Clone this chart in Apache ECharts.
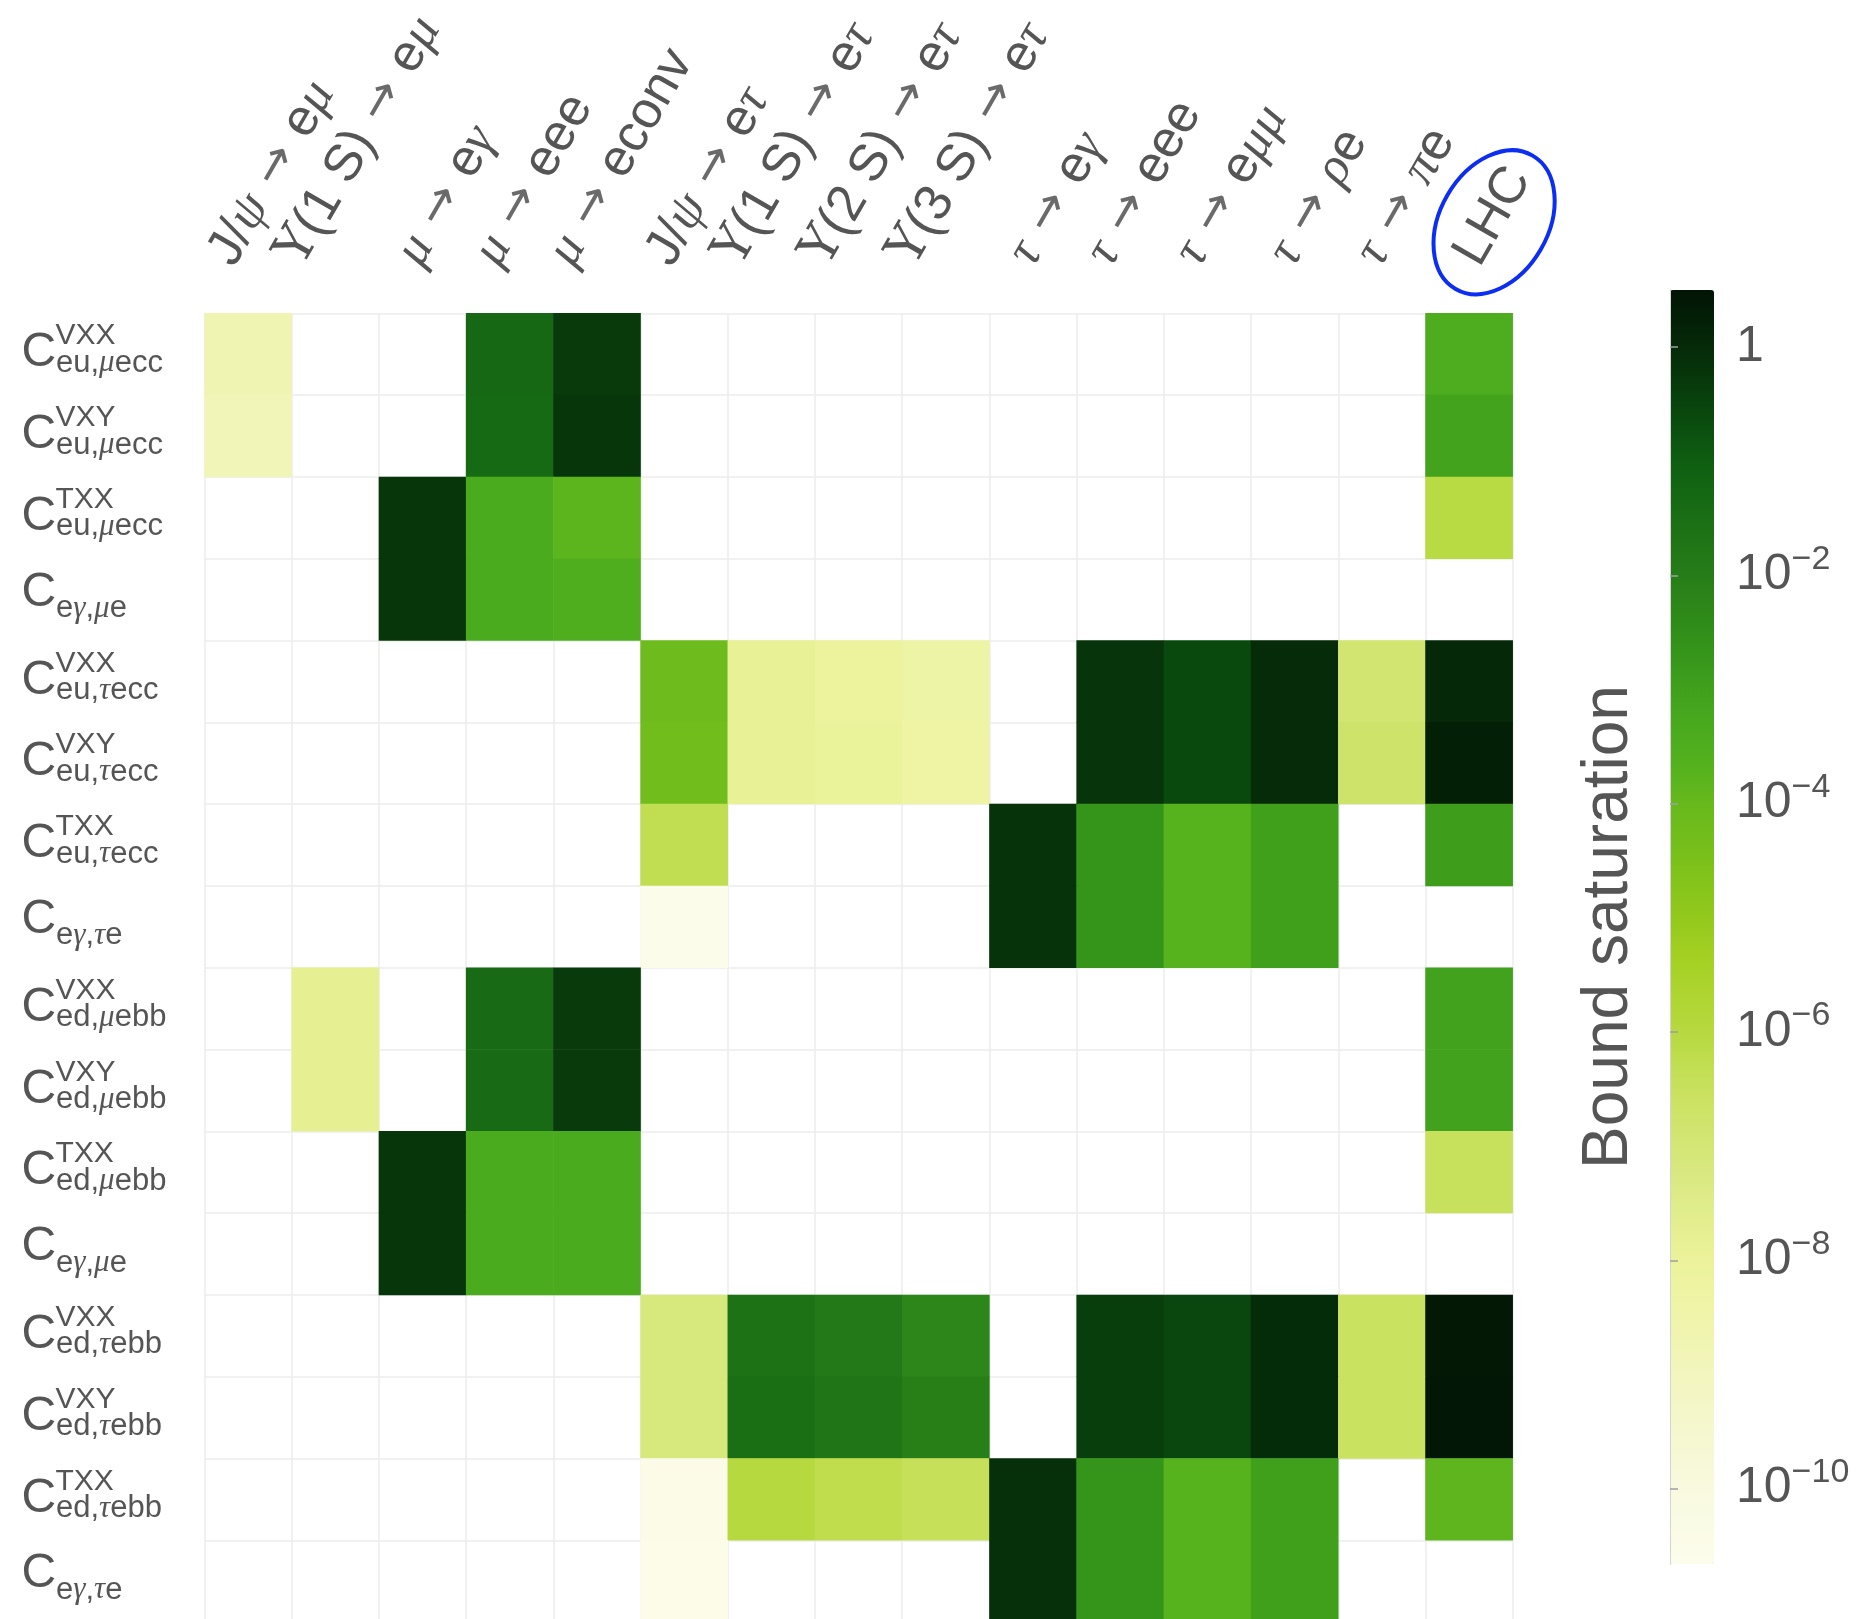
<!DOCTYPE html>
<html>
<head>
<meta charset="utf-8">
<script src="https://cdn.jsdelivr.net/npm/echarts@6/dist/echarts.min.js"></script>
<style>
  html, body { margin: 0; padding: 0; background: #ffffff; }
  #chart { width: 1875px; height: 1619px; }
</style>
</head>
<body>
<div id="chart"></div>
<script>
// ---- data -------------------------------------------------------------
// Observables (columns)
const observables = [
  'J/ψ → eμ', 'Υ(1 S) → eμ', 'μ → eγ', 'μ → eee', 'μ → econv',
  'J/ψ → eτ', 'Υ(1 S) → eτ', 'Υ(2 S) → eτ', 'Υ(3 S) → eτ',
  'τ → eγ', 'τ → eee', 'τ → eμμ', 'τ → ρe', 'τ → πe', 'LHC'
];
// Wilson coefficients (rows): C^{sup}_{sub}
const opSup = ['VXX', 'VXY', 'TXX', '', 'VXX', 'VXY', 'TXX', '',
               'VXX', 'VXY', 'TXX', '', 'VXX', 'VXY', 'TXX', ''];
const opSub = ['eu,μecc', 'eu,μecc', 'eu,μecc', 'eγ,μe',
               'eu,τecc', 'eu,τecc', 'eu,τecc', 'eγ,τe',
               'ed,μebb', 'ed,μebb', 'ed,μebb', 'eγ,μe',
               'ed,τebb', 'ed,τebb', 'ed,τebb', 'eγ,τe'];
// log10(bound saturation) per row, one entry per observable; null = no bound
const n = null;
const satLog10 = [
  [-8.7,  n, n,     -1.3,  -0.32, n,      n,     n,     n,     n,     n,     n,     n,     n,     -3.45],
  [-8.85, n, n,     -1.35, -0.25, n,      n,     n,     n,     n,     n,     n,     n,     n,     -3.1],
  [n,     n, -0.25, -3.4,  -3.82, n,      n,     n,     n,     n,     n,     n,     n,     n,     -6.05],
  [n,     n, -0.25, -3.4,  -3.5,  n,      n,     n,     n,     n,     n,     n,     n,     n,     n],
  [n,     n, n,     n,     n,     -4.15,  -7.85, -8.05, -8.35, n,     -0.2,  -0.62, -0.02, -6.9,  0.05],
  [n,     n, n,     n,     n,     -4.25,  -7.9,  -8.0,  -8.3,  n,     -0.2,  -0.62, -0.02, -6.75, 0.25],
  [n,     n, n,     n,     n,     -6.3,   n,     n,     n,     -0.18, -2.65, -3.7,  -3.0,  n,     -2.95],
  [n,     n, n,     n,     n,     -10.55, n,     n,     n,     -0.18, -2.65, -3.7,  -3.0,  n,     n],
  [n,     -7.75, n, -1.4,  -0.32, n,      n,     n,     n,     n,     n,     n,     n,     n,     -3.05],
  [n,     -7.75, n, -1.4,  -0.32, n,      n,     n,     n,     n,     n,     n,     n,     n,     -3.05],
  [n,     n, -0.25, -3.4,  -3.4,  n,      n,     n,     n,     n,     n,     n,     n,     n,     -6.5],
  [n,     n, -0.25, -3.4,  -3.4,  n,      n,     n,     n,     n,     n,     n,     n,     n,     n],
  [n,     n, n,     n,     n,     -7.15,  -1.6,  -1.85, -2.25, n,     -0.4,  -0.58, -0.03, -6.55, 0.4],
  [n,     n, n,     n,     n,     -7.15,  -1.5,  -1.72, -2.05, n,     -0.4,  -0.58, -0.03, -6.55, 0.45],
  [n,     n, n,     n,     n,     -10.4,  -6.0,  -6.25, -6.45, -0.12, -2.65, -3.7,  -3.0,  n,     -3.85],
  [n,     n, n,     n,     n,     -10.5,  n,     n,     n,     -0.12, -2.65, -3.7,  -3.0,  n,     n]
];
// colour scale (log10 units) and its labelled ticks
const scaleRange = [-10.66, 0.5];
const scaleTicks = [-10, -8, -6, -4, -2, 0];

// ---- colour map -------------------------------------------------------
const paletteStops = [
  [-10.66, '#fdfded'], [-10, '#f8f9df'], [-9.3, '#f4f7c8'], [-8.6, '#f0f4ae'],
  [-8, '#ecf39a'], [-7.3, '#dbe983'], [-6.6, '#cbe263'], [-6, '#b7d940'],
  [-5.4, '#a6d123'], [-5, '#93c91c'], [-4.5, '#7bc01b'], [-4, '#67b91c'],
  [-3.6, '#51b01e'], [-3.2, '#46a71e'], [-2.6, '#33921a'], [-2, '#277d18'],
  [-1.5, '#1a6f15'], [-1, '#0e5e11'], [-0.6, '#0a480e'], [0, '#052a08'], [0.5, '#021505']
];
function hexToRgb(h) { return [1, 3, 5].map(i => parseInt(h.substr(i, 2), 16)); }
function paletteAt(v) {
  for (let i = 1; i < paletteStops.length; i++) {
    const [v0, c0] = paletteStops[i - 1], [v1, c1] = paletteStops[i];
    if (v <= v1 || i === paletteStops.length - 1) {
      const t = Math.max(0, Math.min(1, (v - v0) / (v1 - v0)));
      const a = hexToRgb(c0), b = hexToRgb(c1);
      return 'rgb(' + a.map((x, k) => Math.round(x + (b[k] - x) * t)).join(',') + ')';
    }
  }
}
const rampColors = [];
for (let i = 0; i <= 90; i++) rampColors.push(paletteAt(scaleRange[0] + (scaleRange[1] - scaleRange[0]) * i / 90));

// ---- layout -----------------------------------------------------------
const GRID = { left: 204.5, top: 313.3, width: 1308.2, height: 1308.8 };
const BAR = { left: 1670, top: 290, width: 44, height: 1274 };
const TEXT = '#555555';
const LABEL_PX = 52;
const LABEL_GAP = 52;            // grid top -> centre of a zero-length column label
const LABEL_SHIFT = 24;          // column label boxes sit a little right of the column centre
const LABEL_ANGLE = Math.PI / 3; // column labels are turned 60 degrees
const ARROW_PAD = 3;

// rich-text helpers for the math-style labels
function tokenize(str) {
  const out = [];
  for (const ch of str) {
    let cls = 't';
    if ('ψμγτρπ'.includes(ch)) cls = 'g';
    else if (ch === 'Υ') cls = 'u';
    else if (ch === '→') cls = 'a';
    const last = out[out.length - 1];
    if (last && last.cls === cls) last.text += ch; else out.push({ cls, text: ch });
  }
  return out;
}
const toRich = str => tokenize(str).map(tk => '{' + tk.cls + '|' + tk.text + '}').join('');
const colRich = {
  t: { fontSize: LABEL_PX, fontFamily: 'Liberation Sans', fill: TEXT },
  g: { fontSize: LABEL_PX, fontFamily: 'Liberation Serif', fontStyle: 'italic', fill: TEXT },
  u: { fontSize: LABEL_PX, fontFamily: 'DejaVu Serif', fill: TEXT },
  a: { fontSize: LABEL_PX - 4, fontFamily: 'DejaVu Sans', fill: '#6a6a6a', padding: [0, ARROW_PAD, 0, ARROW_PAD] }
};
const subRich = {
  t: { fontSize: 31, fontFamily: 'Liberation Sans', color: TEXT },
  g: { fontSize: 31, fontFamily: 'Liberation Serif', fontStyle: 'italic', color: TEXT },
  u: { fontSize: 31, fontFamily: 'Liberation Sans', color: TEXT },
  a: { fontSize: 31, fontFamily: 'Liberation Sans', color: TEXT }
};
const measureCtx = document.createElement('canvas').getContext('2d');
function richWidth(str, rich) {
  let w = 0;
  for (const tk of tokenize(str)) {
    const s = rich[tk.cls];
    measureCtx.font = (s.fontStyle === 'italic' ? 'italic ' : '') + s.fontSize + 'px "' + s.fontFamily + '"';
    w += measureCtx.measureText(tk.text).width;
    if (s.padding) w += s.padding[1] + s.padding[3];
  }
  return w;
}
const colLabelWidths = observables.map(s => richWidth(s, colRich));

const rowIds = opSub.map((_, i) => String(i));
const cells = [];
satLog10.forEach((row, r) => row.forEach((v, c) => { if (v !== null) cells.push([c, r, v]); }));

const hiddenAxisParts = { axisLine: { show: false }, axisTick: { show: false }, splitLine: { show: false } };
const gridLine = { show: true, interval: 0, lineStyle: { color: '#ececec', width: 1.5 } };

const option = {
  animation: false,
  backgroundColor: '#ffffff',
  grid: [
    Object.assign({ outerBoundsMode: 'none' }, GRID),
    Object.assign({ outerBoundsMode: 'none' }, BAR)
  ],
  xAxis: [
    {
      type: 'category', gridIndex: 0, position: 'top', data: observables,
      axisLine: { show: false }, axisTick: { show: false }, axisLabel: { show: false },
      splitLine: gridLine
    },
    { type: 'value', gridIndex: 1, show: false, min: 0, max: 1 }
  ],
  yAxis: [
    { // coefficient symbol "C"
      type: 'category', gridIndex: 0, position: 'left', inverse: true, data: rowIds,
      axisLine: { show: false }, axisTick: { show: false },
      splitLine: gridLine,
      axisLabel: {
        interval: 0, align: 'left', margin: GRID.left - 21.5,
        formatter: (v, i) => opSup[i] ? '{cs|C}' : '{cn|C}',
        rich: {
          cs: { fontSize: 48, fontFamily: 'Liberation Sans', color: TEXT, padding: [0, 0, 2, 0] },
          cn: { fontSize: 48, fontFamily: 'Liberation Sans', color: TEXT, padding: [0, 0, 14, 0] }
        }
      }
    },
    Object.assign({ // superscripts
      type: 'category', gridIndex: 0, position: 'left', offset: 0, inverse: true, data: rowIds,
      axisLabel: {
        interval: 0, align: 'left', margin: GRID.left - 55.5,
        formatter: (v, i) => opSup[i] ? '{s|' + opSup[i] + '}' : '',
        rich: { s: { fontSize: 30, fontFamily: 'Liberation Sans', color: TEXT, padding: [0, 0, 36, 0] } }
      }
    }, hiddenAxisParts),
    Object.assign({ // subscripts
      type: 'category', gridIndex: 0, position: 'left', offset: 0, inverse: true, data: rowIds,
      axisLabel: {
        interval: 0, align: 'left', margin: GRID.left - 56,
        padding: [18, 0, 0, 0],
        formatter: (v, i) => toRich(opSub[i]),
        rich: subRich
      }
    }, hiddenAxisParts),
    { // colour-bar tick labels
      type: 'value', gridIndex: 1, position: 'right',
      min: scaleRange[0], max: scaleRange[1], z: 6,
      axisLine: { show: true, lineStyle: { color: '#c8c8c8', width: 1 } },
      axisTick: { show: true, customValues: scaleTicks, length: 8, lineStyle: { color: '#a0a0a0', width: 1.5 } },
      splitLine: { show: false },
      axisLabel: {
        customValues: scaleTicks, margin: 22,
        formatter: v => v === 0 ? '{m|1}' : '{m|10}{e|−' + (-v) + '}',
        rich: {
          m: { fontSize: 50, lineHeight: 66, fontFamily: 'Liberation Sans', color: TEXT },
          e: { fontSize: 34, lineHeight: 34, verticalAlign: 'top', fontFamily: 'Liberation Sans', color: TEXT }
        }
      }
    },
    { // colour-bar title
      type: 'value', gridIndex: 1, position: 'left',
      min: scaleRange[0], max: scaleRange[1], z: 6,
      name: 'Bound saturation', nameLocation: 'middle', nameRotate: 90, nameGap: 29,
      nameTextStyle: { fontSize: 64, fontFamily: 'Liberation Sans', color: TEXT },
      axisLine: { show: true, lineStyle: { color: '#d4d4d4', width: 1 } },
      axisTick: { show: false }, axisLabel: { show: false }, splitLine: { show: false }
    }
  ],
  visualMap: {
    type: 'continuous', seriesIndex: 0, dimension: 2,
    min: scaleRange[0], max: scaleRange[1],
    calculable: false, hoverLink: false, orient: 'vertical',
    left: BAR.left, top: BAR.top, padding: 0,
    itemWidth: BAR.width, itemHeight: BAR.height,
    inRange: { color: rampColors }
  },
  series: [
    {
      type: 'heatmap', xAxisIndex: 0, yAxisIndex: 0, data: cells,
      itemStyle: { borderWidth: 0 }, emphasis: { disabled: true }, progressive: 0
    },
    { // column labels: turned text whose bounding box sits over its column
      type: 'custom', coordinateSystem: 'cartesian2d', xAxisIndex: 0, yAxisIndex: 0,
      clip: false, silent: true, z: 5,
      data: observables.map((_, i) => [i, 0]),
      renderItem: (params, api) => {
        const i = api.value(0);
        const p = api.coord([i, 0]);
        const top = p[1] - api.size([0, 1])[1] / 2;
        const L = colLabelWidths[i];
        return {
          type: 'text', x: p[0] + LABEL_SHIFT, y: top - LABEL_GAP - 0.433 * L, rotation: LABEL_ANGLE,
          style: {
            text: toRich(observables[i]), rich: colRich,
            align: 'center', verticalAlign: 'middle', fill: TEXT,
            fontSize: LABEL_PX, fontFamily: 'Liberation Sans'
          }
        };
      }
    }
  ]
};

const chart = echarts.init(document.getElementById('chart'), null, { renderer: 'canvas' });
chart.setOption(option);

// highlight ring around the LHC column label
const a = chart.convertToPixel({ seriesIndex: 0 }, [14, 0]);
const b = chart.convertToPixel({ seriesIndex: 0 }, [14, 1]);
const gridTop = a[1] - (b[1] - a[1]) / 2;
chart.setOption({
  graphic: [{
    type: 'ellipse', x: a[0] + 25, y: gridTop - 91, rotation: Math.PI / 3, z: 20,
    shape: { cx: 0, cy: 0, rx: 77, ry: 54 },
    style: { fill: 'none', stroke: '#0b2ef2', lineWidth: 4 }
  }]
});
</script>
</body>
</html>
